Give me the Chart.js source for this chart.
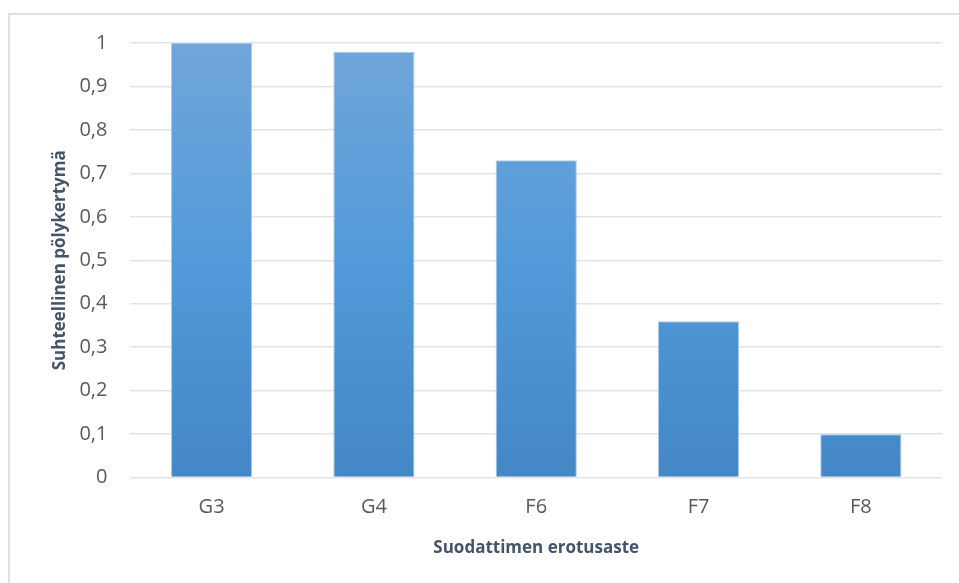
<!DOCTYPE html>
<html>
<head>
<meta charset="utf-8">
<script src="https://cdn.jsdelivr.net/npm/chart.js@4"></script>
<style>
  html, body { margin: 0; padding: 0; background: #fff; }
  body { width: 959px; height: 583px; position: relative; overflow: hidden; }
  .frame { position: absolute; left: 8px; top: 13px; width: 1000px; height: 700px; border: 2px solid #dde1e8; box-sizing: border-box; }
  .wrap { position: absolute; left: 0; top: 0; width: 959px; height: 583px; }
</style>
</head>
<body>
<div class="frame"></div>
<div class="wrap"><canvas id="chart"></canvas></div>
<script>
// data
const categories = ['G3', 'G4', 'F6', 'F7', 'F8'];
const values = [1.0, 0.98, 0.73, 0.36, 0.10];
const yTickLabels = ['0', '0,1', '0,2', '0,3', '0,4', '0,5', '0,6', '0,7', '0,8', '0,9', '1'];
const xTitle = 'Suodattimen erotusaste';
const yTitle = 'Suhteellinen pölykertymä';

const fontFamily = "'Open Sans', 'Noto Sans', sans-serif";

function barGradient(context) {
    const chart = context.chart;
    const area = chart.chartArea;
    if (!area) return '#5b9bd5';
    const el = context.element;
    const top = el && el.y !== undefined ? el.y : area.top;
    const bottom = el && el.base !== undefined ? el.base : area.bottom;
    if (!isFinite(top) || !isFinite(bottom) || top === bottom) return '#5b9bd5';
    const g = chart.ctx.createLinearGradient(0, top, 0, bottom);
    g.addColorStop(0, '#70a6da');
    g.addColorStop(0.5, '#529ad9');
    g.addColorStop(1, '#4387c6');
    return g;
}

const ctx = document.getElementById('chart').getContext('2d');
new Chart(ctx, {
    type: 'bar',
    data: {
        labels: categories,
        datasets: [{
            data: values,
            backgroundColor: barGradient,
            borderColor: '#a9c9ea',
            borderWidth: 1,
            categoryPercentage: 1.0,
            barPercentage: 0.5
        }]
    },
    options: {
        responsive: true,
        maintainAspectRatio: false,
        animation: false,
        layout: { padding: { left: 50, right: 17, top: 43, bottom: 25 } },
        plugins: {
            legend: { display: false },
            tooltip: { enabled: false }
        },
        scales: {
            x: {
                grid: { display: false, drawTicks: false },
                border: { display: false },
                ticks: { color: '#595959', font: { family: fontFamily, size: 20 }, padding: 18 },
                title: {
                    display: true,
                    text: xTitle,
                    color: '#44546a',
                    font: { family: fontFamily, size: 17, weight: 'bold' },
                    padding: { top: 0, bottom: 0 }
                }
            },
            y: {
                min: 0,
                max: 1,
                ticks: {
                    stepSize: 0.1,
                    color: '#595959',
                    font: { family: fontFamily, size: 20 },
                    padding: 23,
                    callback: (value, index) => yTickLabels[index]
                },
                grid: { color: '#dfe3ea', lineWidth: 1.5, drawTicks: false },
                border: { display: false },
                title: {
                    display: true,
                    text: yTitle,
                    color: '#44546a',
                    font: { family: fontFamily, size: 17, weight: 'bold' },
                    padding: { top: 0, bottom: -14 }
                }
            }
        }
    }
});
</script>
</body>
</html>
